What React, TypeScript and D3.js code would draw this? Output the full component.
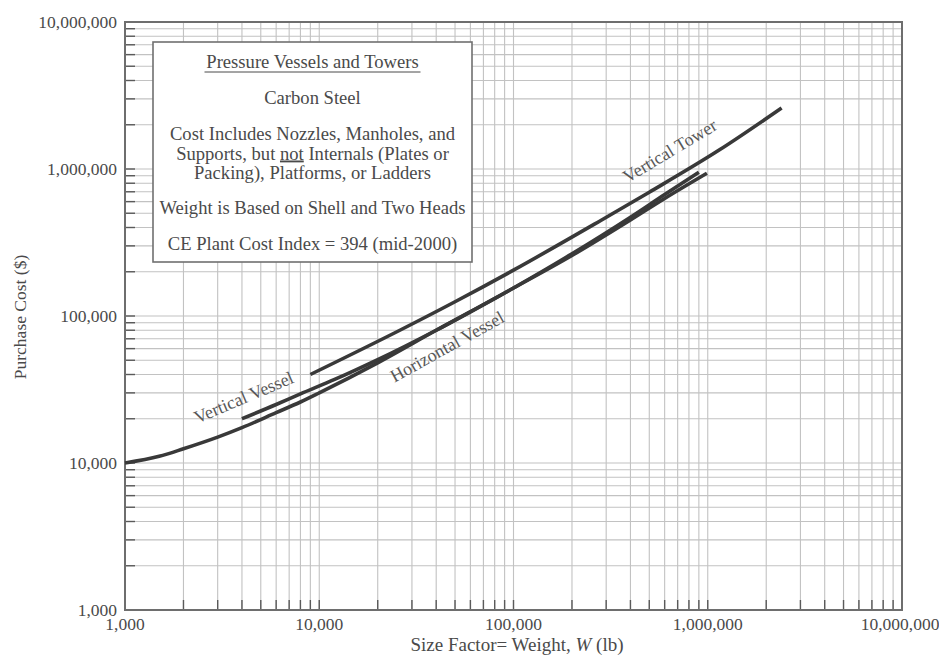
import React from "react";
import * as d3 from "d3";

const WIDTH = 939;
const HEIGHT = 659;

// Axis extents (log-log chart paper)
const weightDomain: [number, number] = [1e3, 1e7];
const costDomain: [number, number] = [1e3, 1e7];

const xTickValues = [1e3, 1e4, 1e5, 1e6, 1e7];
const xTickLabels = ["1,000", "10,000", "100,000", "1,000,000", "10,000,000"];
const yTickValues = [1e3, 1e4, 1e5, 1e6, 1e7];
const yTickLabels = ["1,000", "10,000", "100,000", "1,000,000", "10,000,000"];

// Vertical tower: weight (lb) vs purchase cost ($)
const towerWeight = [9000, 26000, 50000, 100000, 280000, 500000, 1150000, 2400000];
const towerCost = [40000, 80000, 125000, 205000, 445000, 695000, 1350000, 2600000];

// Vertical vessel
const vVesselWeight = [4000, 6000, 8000, 12000, 20000, 40000, 100000, 200000, 400000, 600000, 990000];
const vVesselCost = [20000, 25000, 29500, 37000, 50500, 80000, 155000, 258000, 450000, 630000, 935000];

// Horizontal vessel
const hVesselWeight = [1000, 1500, 2000, 3000, 4000, 6000, 8000, 10000, 20000, 40000, 100000, 200000, 400000, 600000, 900000];
const hVesselCost = [10000, 11100, 12500, 15000, 17400, 22000, 26000, 30000, 48000, 80000, 155000, 265000, 470000, 670000, 950000];

const noteLines = [
  "Carbon Steel",
  "Cost Includes Nozzles, Manholes, and",
  "Packing), Platforms, or Ladders",
  "Weight is Based on Shell and Two Heads",
  "CE Plant Cost Index = 394 (mid-2000)",
];

const FONT = "'Liberation Serif', 'Times New Roman', serif";
const TEXT = "#4a4a4a";
const CURVE = "#393939";

function gridValues(lo: number, hi: number): number[] {
  const out: number[] = [];
  for (let d = lo; d < hi; d *= 10) {
    for (let m = 1; m <= 9; m++) out.push(m * d);
  }
  out.push(hi);
  return out;
}

export default function App() {
  const left = 125;
  const right = 902;
  const top = 22;
  const bottom = 610;

  const x = d3.scaleLog().domain(weightDomain).range([left, right]);
  const y = d3.scaleLog().domain(costDomain).range([bottom, top]);

  const xGrid = gridValues(weightDomain[0], weightDomain[1]);
  const yGrid = gridValues(costDomain[0], costDomain[1]);

  const line = d3
    .line<[number, number]>()
    .x((d) => x(d[0]))
    .y((d) => y(d[1]))
    .curve(d3.curveMonotoneX);

  const zip = (a: number[], b: number[]) => a.map((v, i) => [v, b[i]] as [number, number]);

  const series = [
    zip(towerWeight, towerCost),
    zip(hVesselWeight, hVesselCost),
    zip(vVesselWeight, vVesselCost),
  ];

  // Note box
  const bx0 = 153;
  const by0 = 42;
  const bx1 = 472;
  const by1 = 262;
  const bcx = (bx0 + bx1) / 2;
  const noteSize = 18.6;

  return (
    <div style={{ position: "absolute", left: 0, top: 0 }}>
      <svg width={WIDTH} height={HEIGHT} style={{ display: "block", background: "#fff" }}>
        {/* grid */}
        <g stroke="#c2c2c2" strokeWidth={1.1}>
          {xGrid.map((v) => (
            <line key={"gx" + v} x1={x(v)} x2={x(v)} y1={top} y2={bottom} />
          ))}
          {yGrid.map((v) => (
            <line key={"gy" + v} x1={left} x2={right} y1={y(v)} y2={y(v)} />
          ))}
        </g>

        {/* tick marks on the left and bottom axes */}
        <g stroke="#5a5a5a" strokeWidth={1.4}>
          {yGrid.slice(1, -1).map((v) => (
            <line key={"ty" + v} x1={left} x2={left + 10} y1={y(v)} y2={y(v)} />
          ))}
          {xGrid.slice(1, -1).map((v) => (
            <line key={"tx" + v} x1={x(v)} x2={x(v)} y1={bottom} y2={bottom - 10} />
          ))}
        </g>

        {/* frame */}
        <rect x={left} y={top} width={right - left} height={bottom - top} fill="none" stroke="#6e6e6e" strokeWidth={2} />

        {/* curves */}
        <g fill="none" stroke={CURVE} strokeWidth={3.6} strokeLinecap="butt">
          {series.map((s, i) => (
            <path key={"s" + i} d={line(s) ?? ""} />
          ))}
        </g>

        {/* curve labels */}
        <g fontFamily={FONT} fontSize={18} fill="#585858" textAnchor="middle">
          <text transform={`translate(673,156) rotate(-31)`}>Vertical Tower</text>
          <text transform={`translate(246,403) rotate(-23)`}>Vertical Vessel</text>
          <text transform={`translate(450,352) rotate(-29)`}>Horizontal Vessel</text>
        </g>

        {/* note box */}
        <rect x={bx0} y={by0} width={bx1 - bx0} height={by1 - by0} fill="#fff" stroke="#707070" strokeWidth={1.6} />
        <g fontFamily={FONT} fontSize={noteSize} fill={TEXT} textAnchor="middle">
          <text x={bcx} y={68}>Pressure Vessels and Towers</text>
          <line x1={bcx - 108} x2={bcx + 108} y1={72} y2={72} stroke={TEXT} strokeWidth={1} />
          <text x={bcx} y={104}>{noteLines[0]}</text>
          <text x={bcx} y={140}>{noteLines[1]}</text>
          <text x={bcx} y={159.5}>
            Supports, but{" "}
            <tspan style={{ textDecoration: "underline" }}>not</tspan> Internals (Plates or
          </text>
          <text x={bcx} y={178.5}>{noteLines[2]}</text>
          <text x={bcx} y={214}>{noteLines[3]}</text>
          <text x={bcx} y={250}>{noteLines[4]}</text>
        </g>

        {/* axis tick labels */}
        <g fontFamily={FONT} fontSize={17.5} fill={TEXT}>
          {yTickValues.map((v, i) => (
            <text key={"yl" + v} x={117} y={y(v) + 6} textAnchor="end">
              {yTickLabels[i]}
            </text>
          ))}
          {xTickValues.map((v, i) => (
            <text key={"xl" + v} x={i === xTickValues.length - 1 ? x(v) - 2 : x(v)} y={630} textAnchor="middle">
              {xTickLabels[i]}
            </text>
          ))}
        </g>

        {/* axis titles */}
        <g fontFamily={FONT} fill={TEXT}>
          <text transform="translate(26,317) rotate(-90)" textAnchor="middle" fontSize={17.5}>
            Purchase Cost ($)
          </text>
          <text x={517} y={651} textAnchor="middle" fontSize={19}>
            Size Factor= Weight, <tspan fontStyle="italic">W</tspan> (lb)
          </text>
        </g>
      </svg>
    </div>
  );
}
